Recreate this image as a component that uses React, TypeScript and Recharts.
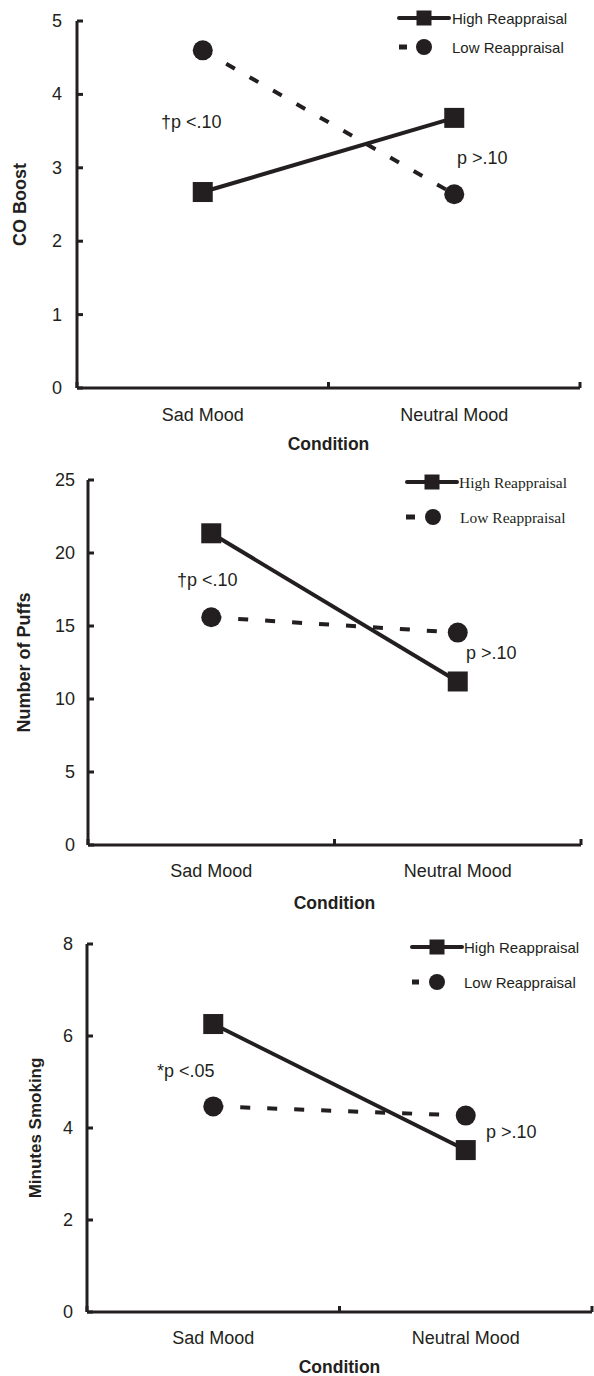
import React from 'react';
import { LineChart, Line, XAxis, YAxis, Legend, ReferenceDot } from 'recharts';

const INK = '#231f20';
const SANS = '"Liberation Sans", Arial, Helvetica, sans-serif';
const SERIF = '"Liberation Serif", "Times New Roman", serif';

// ---------- data ----------
const categories = ['Sad Mood', 'Neutral Mood'];
const seriesNames = ['High Reappraisal', 'Low Reappraisal'];
const xTitle = 'Condition';

const coHigh = [2.67, 3.68];
const coLow = [4.6, 2.64];
const coTicks = [0, 1, 2, 3, 4, 5];
const coNotes = [
  { x: 0.334, y: 3.62, text: '†p <.10' },
  { x: 1.511, y: 3.13, text: 'p >.10' },
];

const puffsHigh = [21.35, 11.2];
const puffsLow = [15.6, 14.55];
const puffsTicks = [0, 5, 10, 15, 20, 25];
const puffsNotes = [
  { x: 0.361, y: 18.15, text: '†p <.10' },
  { x: 1.533, y: 13.15, text: 'p >.10' },
];

const minutesHigh = [6.26, 3.52];
const minutesLow = [4.47, 4.27];
const minutesTicks = [0, 2, 4, 6, 8];
const minutesNotes = [
  { x: 0.277, y: 5.25, text: '*p <.05' },
  { x: 1.58, y: 3.915, text: 'p >.10' },
];

// category slots on a numeric axis: boundaries at integers, labels at half steps
const xTicks = categories.flatMap((_, i) => [i, i + 0.5]).concat([categories.length]);

const buildRows = (high: number[], low: number[]) =>
  categories.map((c, i) => ({ category: c, slot: i + 0.5, high: high[i], low: low[i] }));

// ---------- pieces ----------
const SquareDot = (size: number) => (p: any) => {
  if (p.cx == null || p.cy == null) return <g key={p.key} />;
  return <rect key={p.key} x={p.cx - size / 2} y={p.cy - size / 2} width={size} height={size} fill={INK} />;
};
const CircleDot = (r: number) => (p: any) => {
  if (p.cx == null || p.cy == null) return <g key={p.key} />;
  return <circle key={p.key} cx={p.cx} cy={p.cy} r={r} fill={INK} />;
};

const YTick = (gap: number) => (p: any) => (
  <g>
    <line x1={p.x} x2={p.x + 6} y1={p.y} y2={p.y} stroke={INK} strokeWidth={3} />
    <text x={p.x - gap} y={p.y} textAnchor="end" dominantBaseline="central" fontFamily={SANS} fontSize={18} fill={INK}>
      {p.payload.value}
    </text>
  </g>
);

const XTick = (labelOffset: number) => (p: any) => {
  const v = p.payload.value;
  if (Number.isInteger(v)) {
    return <line x1={p.x} x2={p.x} y1={p.y} y2={p.y - 6} stroke={INK} strokeWidth={3} />;
  }
  return (
    <text x={p.x} y={p.y + labelOffset} textAnchor="middle" dominantBaseline="central" fontFamily={SANS} fontSize={18} fill={INK}>
      {categories[Math.floor(v)]}
    </text>
  );
};

type LegendGeo = {
  x0: number; x1: number; sq: number; tx: number; y1: number; y2: number;
  d0: number; d1: number; circ: number; tx2: number; font: string; fontSize: number;
};

const makeLegend = (g: LegendGeo) => (props: any) => {
  const payload = props.payload || [];
  const ox = g.x0 - 6;
  const oy = g.y1 - 16;
  const names = payload.length ? payload.map((e: any) => e.value) : seriesNames;
  return (
    <svg width={200} height={g.y2 - g.y1 + 32} style={{ display: 'block', overflow: 'visible' }}>
      <line x1={g.x0 - ox} x2={g.x1 - ox} y1={g.y1 - oy} y2={g.y1 - oy} stroke={INK} strokeWidth={4} strokeLinecap="round" />
      <rect x={g.sq - ox - 7.5} y={g.y1 - oy - 7.5} width={15} height={15} fill={INK} />
      <text x={g.tx - ox} y={g.y1 - oy} dominantBaseline="central" fontFamily={g.font} fontSize={g.fontSize} fill={INK}>
        {names[0]}
      </text>
      <rect x={g.d0 - ox} y={g.y2 - oy - 2.5} width={g.d1 - g.d0} height={5} fill={INK} />
      <circle cx={g.circ - ox} cy={g.y2 - oy} r={8} fill={INK} />
      <text x={g.tx2 - ox} y={g.y2 - oy} dominantBaseline="central" fontFamily={g.font} fontSize={g.fontSize} fill={INK}>
        {names[1]}
      </text>
    </svg>
  );
};

type PanelProps = {
  top: number; height: number; marginTop: number; marginRight: number;
  yWidth: number; xHeight: number; yMax: number; yTicks: number[];
  high: number[]; low: number[]; notes: { x: number; y: number; text: string }[];
  yTitle: string; yTitleX: number; yTitleSize: number; tickGap: number;
  catOffset: number; titleOffset: number; legend: LegendGeo;
};

const Panel = (pp: PanelProps) => {
  const rows = buildRows(pp.high, pp.low);
  return (
    <div style={{ position: 'absolute', left: 0, top: pp.top, width: 594, height: pp.height }}>
      <LineChart width={594} height={pp.height} data={rows} margin={{ top: pp.marginTop, right: pp.marginRight, bottom: 0, left: 0 }}>
        <XAxis
          dataKey="slot"
          type="number"
          domain={[0, categories.length]}
          ticks={xTicks}
          interval={0}
          tickLine={false}
          tickSize={0}
          tickMargin={0}
          height={pp.xHeight}
          axisLine={{ stroke: INK, strokeWidth: 3 }}
          tick={XTick(pp.catOffset)}
          label={{
            value: xTitle,
            content: (lp: any) => {
              const vb = lp.viewBox || {};
              return (
                <text x={vb.x + vb.width / 2} y={vb.y + pp.titleOffset} textAnchor="middle" dominantBaseline="central" fontFamily={SANS} fontWeight="bold" fontSize={17.5} fill={INK}>
                  {xTitle}
                </text>
              );
            },
          }}
        />
        <YAxis
          type="number"
          domain={[0, pp.yMax]}
          ticks={pp.yTicks}
          interval={0}
          width={pp.yWidth}
          tickLine={false}
          tickSize={0}
          tickMargin={0}
          axisLine={{ stroke: INK, strokeWidth: 3 }}
          tick={YTick(pp.tickGap)}
          label={{
            value: pp.yTitle,
            content: (lp: any) => {
              const vb = lp.viewBox || {};
              const cy = vb.y + vb.height / 2;
              return (
                <text x={pp.yTitleX} y={cy} transform={`rotate(-90 ${pp.yTitleX} ${cy})`} textAnchor="middle" dominantBaseline="central" fontFamily={SANS} fontWeight="bold" fontSize={pp.yTitleSize} fill={INK}>
                  {pp.yTitle}
                </text>
              );
            },
          }}
        />
        <Line dataKey="low" name={seriesNames[1]} stroke={INK} strokeWidth={4} strokeDasharray="10 17" dot={CircleDot(10)} activeDot={false} isAnimationActive={false} />
        <Line dataKey="high" name={seriesNames[0]} stroke={INK} strokeWidth={4} dot={SquareDot(20)} activeDot={false} isAnimationActive={false} />
        {pp.notes.map((n, i) => (
          <ReferenceDot
            key={i}
            x={n.x}
            y={n.y}
            r={0}
            ifOverflow="visible"
            shape={(sp: any) => (
              <text x={sp.cx} y={sp.cy} dominantBaseline="central" fontFamily={SANS} fontSize={18} fill={INK}>
                {n.text}
              </text>
            )}
          />
        ))}
        <Legend
          layout="vertical"
          align="center"
          verticalAlign="middle"
          wrapperStyle={{ left: pp.legend.x0 - 6, top: pp.legend.y1 - 16, width: 200, height: pp.legend.y2 - pp.legend.y1 + 32 }}
          content={makeLegend(pp.legend)}
        />
      </LineChart>
    </div>
  );
};

export default function App() {
  return (
    <div style={{ position: 'absolute', left: 0, top: 0, width: 594, height: 1376, background: '#fff' }}>
      <Panel
        top={0} height={460} marginTop={21} marginRight={14} yWidth={77} xHeight={72}
        yMax={5} yTicks={coTicks} high={coHigh} low={coLow} notes={coNotes}
        yTitle="CO Boost" yTitleX={20} yTitleSize={18} tickGap={15} catOffset={27} titleOffset={56}
        legend={{ x0: 399, x1: 449, sq: 424, tx: 452, y1: 18, y2: 47, d0: 399, d1: 407, circ: 424, tx2: 452, font: SANS, fontSize: 15 }}
      />
      <Panel
        top={460} height={465} marginTop={20} marginRight={13} yWidth={88} xHeight={80}
        yMax={25} yTicks={puffsTicks} high={puffsHigh} low={puffsLow} notes={puffsNotes}
        yTitle="Number of Puffs" yTitleX={24} yTitleSize={18} tickGap={13} catOffset={26} titleOffset={58}
        legend={{ x0: 407, x1: 457, sq: 432, tx: 459, y1: 22, y2: 57, d0: 406, d1: 415, circ: 433, tx2: 460, font: SERIF, fontSize: 15.5 }}
      />
      <Panel
        top={925} height={451} marginTop={19} marginRight={2} yWidth={87} xHeight={64}
        yMax={8} yTicks={minutesTicks} high={minutesHigh} low={minutesLow} notes={minutesNotes}
        yTitle="Minutes Smoking" yTitleX={35} yTitleSize={17} tickGap={14} catOffset={26} titleOffset={55}
        legend={{ x0: 412, x1: 462, sq: 437, tx: 464, y1: 22, y2: 57, d0: 412, d1: 419, circ: 437, tx2: 464, font: SANS, fontSize: 15 }}
      />
    </div>
  );
}
